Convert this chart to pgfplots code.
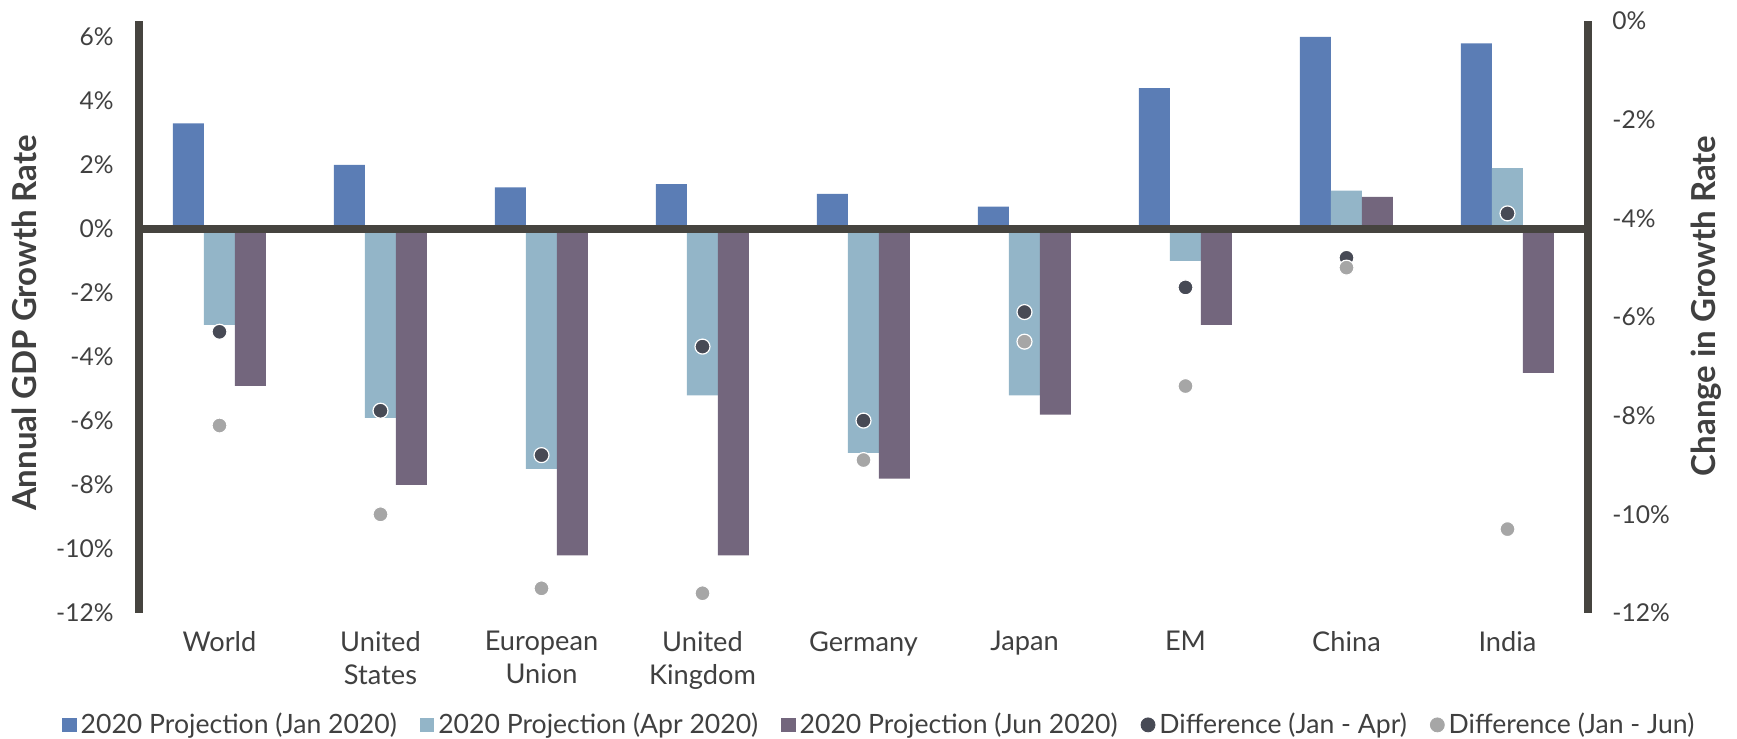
\documentclass[border=0pt]{standalone}
\usepackage{pgfplots}
\usepackage{pgfplotstable}
\pgfplotsset{compat=1.18}
\usepackage{fontspec}
\setmainfont{Lato}

\definecolor{janblue}{HTML}{5B7DB5}
\definecolor{aprblue}{HTML}{93B5C8}
\definecolor{junpurple}{HTML}{73667D}
\definecolor{diffdark}{HTML}{474A55}
\definecolor{diffgray}{HTML}{A6A6A6}
\definecolor{axisdark}{HTML}{46443F}
\definecolor{textgray}{HTML}{404040}

% 2020 GDP growth projections (%) and the changes between releases
\pgfplotstableread{
x jan apr jun dapr djun
0 3.3 -3.0 -4.9 -6.3 -8.2
1 2.0 -5.9 -8.0 -7.9 -10.0
2 1.3 -7.5 -10.2 -8.8 -11.5
3 1.4 -5.2 -10.2 -6.6 -11.6
4 1.1 -7.0 -7.8 -8.1 -8.9
5 0.7 -5.2 -5.8 -5.9 -6.5
6 4.4 -1.0 -3.0 -5.4 -7.4
7 6.0 1.2 1.0 -4.8 -5.0
8 5.8 1.9 -4.5 -3.9 -10.3
}\gdpdata

\pgfplotsset{
  common/.style={
    at={(0,0)}, anchor=south west, scale only axis,
    width=724.5pt, height=296pt,
    xmin=-0.5, xmax=8.5,
    major tick length=0pt,
    tick style={draw=none},
    every axis y label/.style={font=\fontsize{16.5}{19}\selectfont\bfseries, text=textgray, rotate=90, anchor=center},
    yticklabel style={font=\fontsize{12.3}{14}\selectfont, text=textgray, inner sep=0pt},
  },
  barimg/.style={legend image code/.code={\fill[##1] (0pt,-3.6pt) rectangle (7.2pt,3.6pt);}},
}

\begin{document}
\begin{tikzpicture}
\begin{axis}[common,
  ymin=-12, ymax=6.5,
  axis y line*=left,
  axis x line*=bottom,
  x axis line style={draw=none},
  y axis line style={line width=3.8pt, color=axisdark, -},
  ytick={-12,-10,...,6},
  yticklabels={-12\%,-10\%,-8\%,-6\%,-4\%,-2\%,0\%,2\%,4\%,6\%},
  yticklabel style={anchor=east, xshift=-12.5pt},
  xtick={0,...,8},
  xticklabels={World,United\\States,European\\Union,United\\Kingdom,Germany,Japan,EM,China,India},
  xticklabel style={font=\fontsize{13.6}{16.5}\selectfont, text=textgray, align=center, anchor=north, inner sep=0pt, yshift=-9pt},
  ylabel={Annual GDP Growth Rate},
  ylabel style={at={(axis description cs:-0.0794,0.4899)}},
  legend columns=5,
  legend style={at={(axis description cs:0.5116,-0.189)}, anchor=center, draw=none, fill=none,
    font=\fontsize{13.3}{15}\selectfont, text=textgray, inner sep=0pt,
    /tikz/every even column/.append style={column sep=9.5pt}},
]
\addplot[ybar, bar width=15.5pt, bar shift=-15.5pt, fill=janblue, draw=none, barimg] table[x=x, y=jan]{\gdpdata};
\addlegendentry{2020 Projection (Jan 2020)}
\addplot[ybar, bar width=15.5pt, bar shift=0pt, fill=aprblue, draw=none, barimg] table[x=x, y=apr]{\gdpdata};
\addlegendentry{2020 Projection (Apr 2020)}
\addplot[ybar, bar width=15.5pt, bar shift=15.5pt, fill=junpurple, draw=none, barimg] table[x=x, y=jun]{\gdpdata};
\addlegendentry{2020 Projection (Jun 2020)}
\addlegendimage{legend image code/.code={\fill[diffdark] (3.5pt,0pt) circle (3.5pt);}}
\addlegendentry{Difference (Jan - Apr)}
\addlegendimage{legend image code/.code={\fill[diffgray] (3.5pt,0pt) circle (3.5pt);}}
\addlegendentry{Difference (Jan - Jun)}
% zero baseline across the plot
\draw[line width=3.8pt, color=axisdark] (axis cs:-0.5,0) -- (axis cs:8.5,0);
\end{axis}

\begin{axis}[common,
  ymin=-12, ymax=0,
  axis x line=none,
  axis y line*=right,
  y axis line style={line width=3.8pt, color=axisdark, -},
  ytick={-12,-10,...,0},
  yticklabels={-12\%,-10\%,-8\%,-6\%,-4\%,-2\%,0\%},
  yticklabel style={anchor=west, xshift=12pt},
  ylabel={Change in Growth Rate},
  ylabel style={at={(axis description cs:1.0814,0.5186)}},
]
\addplot[only marks, mark=*, mark size=3.75pt, mark options={fill=diffdark, draw=white, line width=0.6pt}] table[x=x, y=dapr]{\gdpdata};
\addplot[only marks, mark=*, mark size=3.75pt, mark options={fill=diffgray, draw=white, line width=0.6pt}] table[x=x, y=djun]{\gdpdata};
\end{axis}
\pgfresetboundingbox
\path (-69.5pt,-63pt) rectangle (799pt,306.5pt);
\end{tikzpicture}
\end{document}
